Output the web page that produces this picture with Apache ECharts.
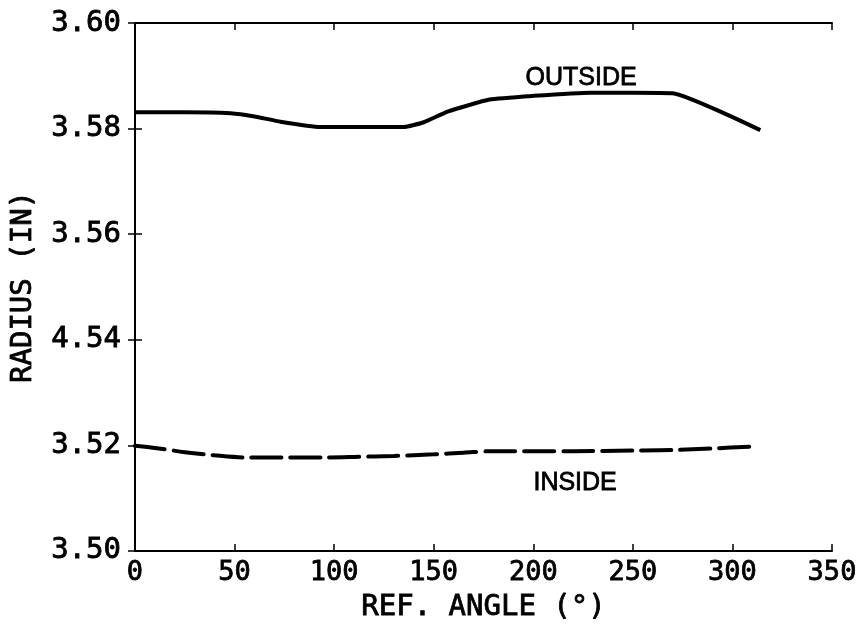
<!DOCTYPE html>
<html>
<head>
<meta charset="utf-8">
<script src="https://cdn.jsdelivr.net/npm/echarts@6/dist/echarts.min.js"></script>
<style>
  html, body { margin: 0; padding: 0; background: #fff; }
  #chart { width: 866px; height: 627px; }
</style>
</head>
<body>
<div id="chart"></div>
<script>
// Measured radius vs. reference angle
const outsideAngle = [0, 25, 48, 60, 73, 93, 110, 135, 145, 157, 178, 200, 229, 250, 270, 314];
const outsideRadius = [3.5831, 3.5831, 3.5829, 3.5823, 3.5813, 3.5803, 3.5803, 3.5803, 3.5812, 3.5832, 3.5855, 3.5862, 3.5868, 3.5868, 3.5867, 3.5797];

const insideAngle = [0, 12, 25, 40, 55, 75, 95, 110, 130, 150, 165, 180, 220, 250, 270, 290, 311];
const insideRadius = [3.5199, 3.5194, 3.5187, 3.5181, 3.5177, 3.5177, 3.5177, 3.5178, 3.5180, 3.5183, 3.5186, 3.5189, 3.5189, 3.5190, 3.5191, 3.5194, 3.5198];

// Axis tick labels (as printed)
const yTickLabels = ['3.50', '3.52', '3.54', '3.56', '3.58', '3.60'];
yTickLabels[2] = '4.54';
const xTickLabels = ['0', '50', '100', '150', '200', '250', '300', '350'];

// Curve labels and where they sit (data coordinates)
const curveLabels = ['OUTSIDE', 'INSIDE'];
const curveLabelAt = [[224, 3.5895], [221, 3.5129]];

const pair = (xs, ys) => xs.map((x, i) => [x, ys[i]]);

const monoFont = '"DejaVu Sans Mono", "Liberation Mono", monospace';
const sansFont = '"Liberation Sans", Arial, sans-serif';

// plotter-style text: a thin outline in the text colour gives the heavier pen weight
const pen = { color: '#000', textBorderColor: '#000', textBorderWidth: 0.8 };

const axisLine = { show: true, lineStyle: { color: '#000', width: 2 } };
const innerTick = { show: true, inside: true, length: 7, lineStyle: { color: '#000', width: 1.5 } };

const curveLabel = i => ({
  symbol: 'rect', symbolSize: 1, silent: true,
  itemStyle: { color: 'rgba(0,0,0,0)' },
  label: Object.assign({
    show: true, position: 'inside', formatter: curveLabels[i],
    fontFamily: sansFont, fontSize: 25
  }, pen),
  data: [{ coord: curveLabelAt[i] }]
});

const chart = echarts.init(document.getElementById('chart'));
chart.setOption({
  backgroundColor: '#fff',
  animation: false,
  grid: { left: 135, right: 34, top: 23, bottom: 66 },
  xAxis: [
    {
      type: 'value', min: 0, max: 350, interval: 50,
      axisLine, axisTick: innerTick, splitLine: { show: false },
      axisLabel: Object.assign({
        fontFamily: monoFont, fontSize: 27, margin: 9,
        formatter: v => xTickLabels[Math.round(v / 50)]
      }, pen),
      name: 'REF. ANGLE (°)', nameLocation: 'middle', nameGap: 39,
      nameTextStyle: Object.assign({ fontFamily: monoFont, fontSize: 29 }, pen)
    },
    {
      type: 'value', position: 'top', min: 0, max: 350, interval: 50,
      axisLine, axisTick: innerTick, axisLabel: { show: false }, splitLine: { show: false }
    }
  ],
  yAxis: [
    {
      type: 'value', min: 3.50, max: 3.60, interval: 0.02,
      axisLine, axisTick: innerTick, splitLine: { show: false },
      axisLabel: Object.assign({
        fontFamily: monoFont, fontSize: 29, margin: 14,
        formatter: v => yTickLabels[Math.round((v - 3.5) / 0.02)]
      }, pen),
      name: 'RADIUS (IN)', nameLocation: 'middle', nameGap: 97, nameRotate: 90,
      nameTextStyle: Object.assign({ fontFamily: monoFont, fontSize: 29 }, pen)
    },
    {
      type: 'value', position: 'right', min: 3.50, max: 3.60, interval: 0.02,
      axisLine, axisTick: innerTick, axisLabel: { show: false }, splitLine: { show: false }
    }
  ],
  series: [
    {
      name: 'OUTSIDE', type: 'line', data: pair(outsideAngle, outsideRadius),
      symbol: 'none', smooth: 0.15,
      lineStyle: { color: '#000', width: 4 },
      markPoint: curveLabel(0)
    },
    {
      name: 'INSIDE', type: 'line', data: pair(insideAngle, insideRadius),
      symbol: 'none', smooth: 0.3,
      lineStyle: { color: '#000', width: 4, type: [30, 9], cap: 'round' },
      markPoint: curveLabel(1)
    }
  ]
});
</script>
</body>
</html>
